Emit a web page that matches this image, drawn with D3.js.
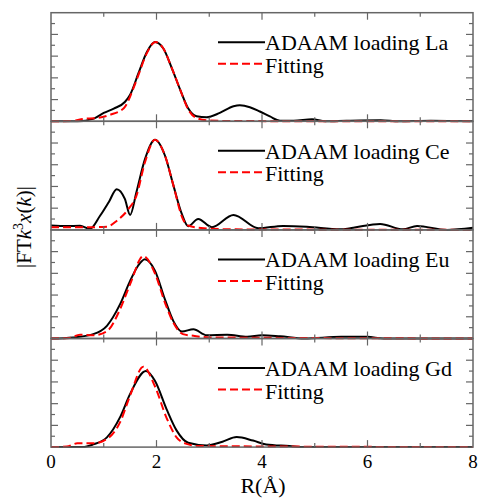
<!DOCTYPE html>
<html>
<head>
<meta charset="utf-8">
<script src="https://cdn.jsdelivr.net/npm/d3@7"></script>
<style>
  body { margin: 0; background: #fff; }
  svg { display: block; }
  text { font-family: "Liberation Serif", "DejaVu Serif", serif; }
</style>
</head>
<body>
<svg id="chart" width="479" height="499"></svg>
<script>
// FT magnitude, one panel per metal: [R (Å), |FT|] pairs
const panels = ['La', 'Ce', 'Eu', 'Gd']
const xTicks = [0, 2, 4, 6, 8]

const laExp = [[0,0],[0.5,0],[0.81,0.25],[1.0,0.77],[1.19,1.17],[1.4,1.78],[1.5,2.45],[1.66,4.45],[1.82,6.4],[1.97,7.3],[2.13,6.7],[2.29,4.9],[2.45,2.9],[2.6,1.2],[2.76,0.46],[2.95,0.37],[3.2,0.77],[3.46,1.38],[3.58,1.47],[3.77,1.3],[3.96,0.9],[4.15,0.45],[4.34,0.06],[4.6,0.05],[4.95,0.2],[5.2,0],[5.6,0.05],[6.25,0.1],[6.6,0],[7.2,0.05],[8,0]]
const laFit = [[0,0],[0.45,0.05],[0.6,0.22],[0.87,0.3],[1.12,0.6],[1.38,1.2],[1.56,3.0],[1.66,4.3],[1.82,6.3],[1.98,7.3],[2.13,6.7],[2.29,4.9],[2.45,2.9],[2.6,1.1],[2.76,0.3],[2.95,0.1],[3.5,0.02],[8,0]]

const ceExp = [[0,0.4],[0.3,0.35],[0.55,0.38],[0.74,0.1],[0.93,1.3],[1.1,2.6],[1.245,3.75],[1.4,2.85],[1.5,1.38],[1.62,3.5],[1.78,6.5],[1.97,8.3],[2.16,6.85],[2.32,4.1],[2.48,1.47],[2.6,0.34],[2.79,1.0],[3.05,0.25],[3.46,1.38],[3.93,0.15],[4.4,0.37],[4.85,0.3],[5.48,0.05],[5.73,0.2],[6.24,0.55],[6.67,0.05],[6.94,0.37],[7.5,0],[8,0.2]]
const ceFit = [[0,0.25],[0.8,0.25],[1.06,0.3],[1.25,0.85],[1.47,1.93],[1.62,3.16],[1.78,6.2],[1.97,8.3],[2.16,6.85],[2.32,4.1],[2.5,1.0],[2.6,0.4],[2.9,0.15],[3.5,0.05],[8,0]]

const euExp = [[0,0],[0.42,0.1],[0.8,0.4],[1.06,1.17],[1.31,3.16],[1.5,5.3],[1.65,6.7],[1.78,7.3],[1.97,6.25],[2.16,3.6],[2.32,1.6],[2.48,0.64],[2.7,0.85],[2.95,0.3],[3.34,0.35],[3.72,0.15],[4.0,0.3],[4.34,0.2],[4.8,0],[5.5,0.15],[6.0,0.15],[6.3,0],[8,0]]
const euFit = [[0,0],[0.35,0.05],[0.55,0.35],[0.8,0.3],[1.06,0.67],[1.31,2.7],[1.5,5.0],[1.75,7.6],[1.97,6.0],[2.16,3.3],[2.32,1.45],[2.5,0.4],[2.7,0.25],[3.0,0.1],[8,0]]

const gdExp = [[0,0],[0.6,0],[0.8,0.25],[1.06,0.9],[1.31,2.76],[1.5,4.9],[1.8,7.0],[1.97,6.1],[2.19,3.5],[2.38,1.54],[2.6,0.4],[2.95,0.15],[3.25,0.5],[3.52,0.92],[3.83,0.6],[4.08,0.25],[4.52,0.1],[4.77,0],[8,0]]
const gdFit = [[0,0],[0.3,0.05],[0.5,0.35],[0.8,0.35],[1.06,0.75],[1.31,2.3],[1.5,4.75],[1.75,7.4],[1.97,5.6],[2.19,2.7],[2.38,0.9],[2.57,0.3],[2.8,0.1],[8,0]]

const expData = [laExp, ceExp, euExp, gdExp]
const fitData = [laFit, ceFit, euFit, gdFit]

let marginLeft = 51, marginTop = 12.7, plotW = 422, plotH = 434.4
let panelH = plotH / panels.length
let axisColor = '#666'
let serif = 'Liberation Serif, DejaVu Serif, serif'

let svg = d3.select('#chart')

let x = d3.scaleLinear().domain([0, 8]).range([marginLeft, marginLeft + plotW])

panels.forEach((name, i) => {
  let y0 = marginTop + i * panelH
  let y = d3.scaleLinear().domain([0, 10]).range([y0 + panelH, y0])
  let g = svg.append('g')

  let line = d3.line()
    .x(d => x(d[0]))
    .y(d => y(d[1]))
    .curve(d3.curveMonotoneX)

  g.append('path')
    .attr('d', line(expData[i]))
    .attr('fill', 'none')
    .attr('stroke', '#000')
    .attr('stroke-width', 2)

  g.append('path')
    .attr('d', line(fitData[i]))
    .attr('fill', 'none')
    .attr('stroke', '#ff0000')
    .attr('stroke-width', 2)
    .attr('stroke-dasharray', '8,4')

  // frame with inward ticks on every side
  g.append('rect')
    .attr('x', marginLeft).attr('y', y0)
    .attr('width', plotW).attr('height', panelH)
    .attr('fill', 'none')
    .attr('stroke', axisColor)
    .attr('stroke-width', 1.5)

  let yt = d3.range(1, 10)
  let xt = d3.range(1, 8)
  let tl = v => (v % 2 === 0 ? 7 : 4)
  let right = marginLeft + plotW

  g.selectAll('.yl').data(yt).enter().append('line')
    .attr('x1', marginLeft).attr('x2', d => marginLeft + tl(d))
    .attr('y1', d => y(d)).attr('y2', d => y(d))
    .attr('stroke', axisColor).attr('stroke-width', 1.2)
  g.selectAll('.yr').data(yt).enter().append('line')
    .attr('x1', right).attr('x2', d => right - tl(d))
    .attr('y1', d => y(d)).attr('y2', d => y(d))
    .attr('stroke', axisColor).attr('stroke-width', 1.2)
  g.selectAll('.xt').data(xt).enter().append('line')
    .attr('x1', d => x(d)).attr('x2', d => x(d))
    .attr('y1', y0).attr('y2', d => y0 + tl(d))
    .attr('stroke', axisColor).attr('stroke-width', 1.2)
  g.selectAll('.xb').data(xt).enter().append('line')
    .attr('x1', d => x(d)).attr('x2', d => x(d))
    .attr('y1', y0 + panelH).attr('y2', d => y0 + panelH - tl(d))
    .attr('stroke', axisColor).attr('stroke-width', 1.2)

  // legend
  let lx1 = 218, lx2 = 265
  g.append('line')
    .attr('x1', lx1).attr('x2', lx2)
    .attr('y1', y0 + 29.5).attr('y2', y0 + 29.5)
    .attr('stroke', '#000').attr('stroke-width', 2)
  g.append('text')
    .attr('x', lx2).attr('y', y0 + 37.5)
    .attr('font-family', serif)
    .attr('font-size', 22)
    .text('ADAAM loading ' + name)
  g.append('line')
    .attr('x1', lx1).attr('x2', lx2)
    .attr('y1', y0 + 51).attr('y2', y0 + 51)
    .attr('stroke', '#ff0000').attr('stroke-width', 2)
    .attr('stroke-dasharray', '8,4')
  g.append('text')
    .attr('x', lx2).attr('y', y0 + 60)
    .attr('font-family', serif)
    .attr('font-size', 22)
    .text('Fitting')
})

// x tick labels
svg.selectAll('.xlab').data(xTicks).enter().append('text')
  .attr('x', d => x(d))
  .attr('y', marginTop + plotH + 21)
  .attr('text-anchor', 'middle')
  .attr('font-family', serif)
  .attr('font-size', 19)
  .text(d => d)

svg.append('text')
  .attr('x', marginLeft + plotW / 2 + 1)
  .attr('y', 493)
  .attr('text-anchor', 'middle')
  .attr('font-family', serif)
  .attr('font-size', 22)
  .text('R(Å)')

// y label
let yl = svg.append('text')
  .attr('transform', 'translate(31,227) rotate(-90)')
  .attr('text-anchor', 'middle')
  .attr('font-family', serif)
  .attr('font-size', 21)
yl.append('tspan').text('|FT')
yl.append('tspan').attr('font-style', 'italic').text('k')
yl.append('tspan').attr('font-size', 14).attr('dy', -8).text('3')
yl.append('tspan').attr('font-style', 'italic').attr('dy', 8).text('x')
yl.append('tspan').text('(')
yl.append('tspan').attr('font-style', 'italic').text('k')
yl.append('tspan').text(')|')
</script>
</body>
</html>
